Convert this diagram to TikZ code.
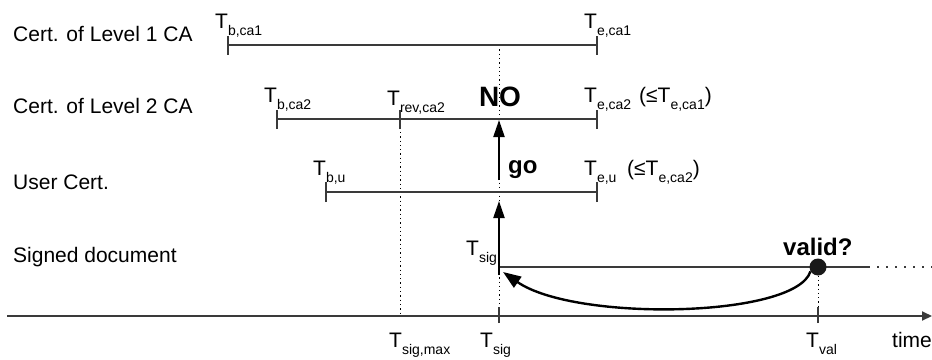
\documentclass[tikz,border=0pt]{standalone}
\usepackage{fontspec}
\setmainfont{Liberation Sans}
\usetikzlibrary{arrows.meta}

% T with a lowered, smaller index
\newcommand{\tlab}[1]{T{\fontsize{14}{14}\selectfont\raisebox{-7pt}{#1}}}

\definecolor{linegray}{HTML}{3A3A3A}

\tikzset{
  rowlabel/.style={inner sep=0pt, anchor=base west, font=\fontsize{21}{21}\selectfont},
  tlabel/.style={inner sep=0pt, anchor=base west, font=\fontsize{21}{21}\selectfont},
  boldlabel/.style={inner sep=0pt, anchor=base west, font=\fontsize{24}{24}\selectfont\bfseries},
  period/.style={draw=linegray, line width=1.3pt},
  tick/.style={draw=linegray, line width=1.3pt},
  guide/.style={draw=black, line width=1pt, dash pattern=on 1.3pt off 3pt},
  future/.style={draw=linegray, line width=1.3pt, dash pattern=on 1.5pt off 7.5pt},
  timeaxis/.style={draw=linegray, line width=2pt, -{Triangle[length=10pt,width=9pt]}},
  check/.style={draw=black, line width=2.2pt, -{Triangle[length=17pt,width=11pt]}},
  back/.style={draw=black, line width=2.4pt, -{Triangle[length=18pt,width=13pt]}},
}

\begin{document}
\begin{tikzpicture}[x=1pt,y=-1pt]
\useasboundingbox (0,0) rectangle (932,359);

% row captions
\node[rowlabel] (row1) at (13,41) {Cert. of Level 1 CA};
\node[rowlabel] (row2) at (13,113) {Cert. of Level 2 CA};
\node[rowlabel] (row3) at (13,189) {User Cert.};
\node[rowlabel] (row4) at (13,262) {Signed document};

% key points
\coordinate (b1) at (228,45);   \coordinate (e1) at (597,45);
\coordinate (b2) at (277,119);  \coordinate (r2) at (400,119); \coordinate (e2) at (597,119);
\coordinate (bu) at (326,192);  \coordinate (eu) at (597,192);
\coordinate (sig) at (499,267); \coordinate (solidend) at (868,267); \coordinate (sigend) at (932,267);
\coordinate (ax0) at (7,316);   \coordinate (ax1) at (932,316);
\coordinate (axsigmax) at (400,316);
\coordinate (axsig) at (499,316);
\coordinate (axval) at (818,316);
\coordinate (top) at (499,45);

% dotted guides
\draw[guide] (top) -- (axsig);
\draw[guide] (r2) -- (axsigmax);
\draw[guide] (818,267) -- (axval);
\draw[future] (solidend) -- (sigend);

% validity periods
\draw[period] (b1) -- (e1);
\draw[period] (b2) -- (e2);
\draw[period] (bu) -- (eu);
\draw[period] (sig) -- (solidend);
\foreach \p in {b1,e1} \draw[tick] ([yshift=-9.5pt]\p) -- ([yshift=9.5pt]\p);
\foreach \p in {b2,r2,e2} \draw[tick] ([yshift=-10pt]\p) -- ([yshift=9pt]\p);
\foreach \p in {bu,eu} \draw[tick] ([yshift=-10pt]\p) -- ([yshift=10pt]\p);

% time axis
\draw[timeaxis] (ax0) -- (ax1);
\foreach \p in {axsig,axval} \draw[tick] ([yshift=-7pt]\p) -- ([yshift=9pt]\p);

% period labels
\node[tlabel] (tb1) at (215,28) {\tlab{b,ca1}};
\node[tlabel] (te1) at (584,28) {\tlab{e,ca1}};
\node[tlabel] (tb2) at (264,102) {\tlab{b,ca2}};
\node[tlabel] (tr2) at (387,105) {\tlab{rev,ca2}};
\node[tlabel] (te2) at (584,102) {\tlab{e,ca2}};
\node[tlabel] (ce2) at (639,102) {(≤\tlab{e,ca1})};
\node[tlabel] (tbu) at (313,175) {\tlab{b,u}};
\node[tlabel] (teu) at (584,175) {\tlab{e,u}};
\node[tlabel] (ceu) at (627,175) {(≤\tlab{e,ca2})};
\node[tlabel] (tsig) at (466,255) {\tlab{sig}};

% axis labels
\node[tlabel] (xsigmax) at (389,347) {\tlab{sig,max}};
\node[tlabel] (xsig) at (480,347) {\tlab{sig}};
\node[tlabel] (xval) at (806,347) {\tlab{val}};
\node[tlabel] (xtime) at (892,347) {time};

% chain check
\node[inner sep=0pt, anchor=base, font=\fontsize{28}{28}\selectfont\bfseries] (no) at (500,106) {NO};
\node[boldlabel] (go) at (508,173) {go};
\coordinate (lowtail) at (499,275);
\coordinate (lowtip) at (499,201);
\coordinate (uptail) at (499,180);
\coordinate (uptip) at (499,120);
\draw[check] (lowtail) -- (lowtip);
\draw[check] (uptail) -- (uptip);

% validation point
\node[circle, fill=black!90, inner sep=0pt, minimum size=17pt] (val) at (818,267) {};
\node[boldlabel] (validq) at (783,255) {valid?};
\coordinate (backtip) at (503,272);
\draw[back] (val.210) .. controls (796,318) and (575,322) .. (backtip);
\end{tikzpicture}
\end{document}
